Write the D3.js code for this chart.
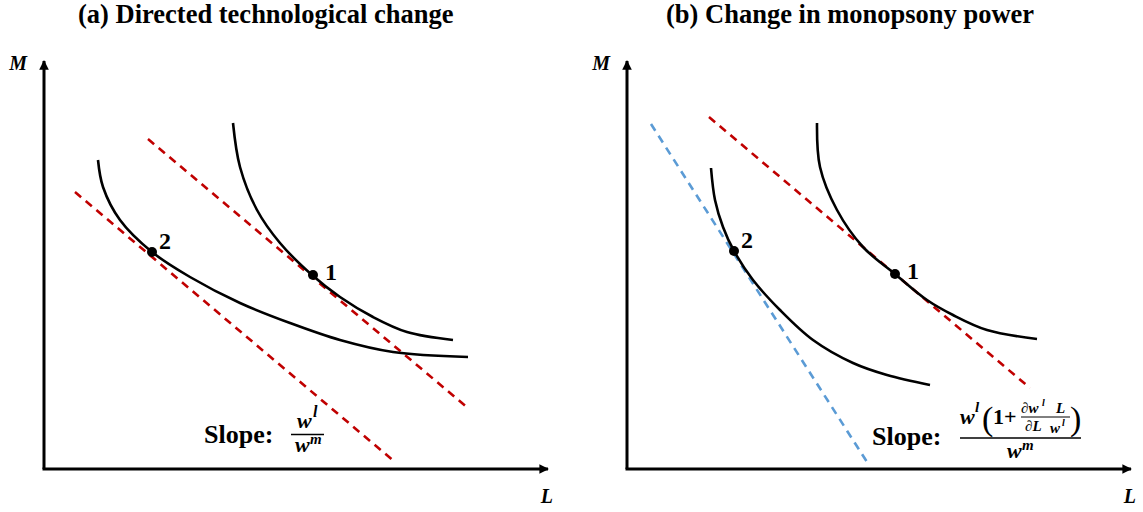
<!DOCTYPE html>
<html>
<head>
<meta charset="utf-8">
<title>Isoquants</title>
<script src="https://d3js.org/d3.v7.min.js"></script>
<style>
  body { margin: 0; background: #fff; }
  svg text { font-family: "Liberation Serif", "Times New Roman", serif; }
</style>
</head>
<body>
<svg id="chart" width="1143" height="512"></svg>
<script>
// ---- data (axis units: L across, M up) ----
const titles = ["(a) Directed technological change", "(b) Change in monopsony power"];

// panel (a) isoquants
const isoA1 = [[3.78,8.65],[3.92,7.55],[4.26,6.475],[4.72,5.65],[5.36,4.85],[5.92,4.3],[6.58,3.8],[7.26,3.425],[8.18,3.225]];
const isoA2 = [[1.08,7.725],[1.18,7.05],[1.52,6.225],[2.16,5.425],[2.92,4.8],[3.92,4.15],[4.92,3.65],[5.92,3.225],[6.98,2.925],[8.48,2.8]];
// panel (a) price lines (start, end)
const lineA1 = [[2.08,8.25],[8.48,1.525]];
const lineA2 = [[0.62,6.925],[7.02,0.175]];
const pointsA = [{id:"1", L:5.38, M:4.85}, {id:"2", L:2.16, M:5.425}];

// panel (b) isoquants
const isoB1 = [[3.8,8.65],[3.86,7.55],[4.2,6.475],[4.72,5.55],[5.36,4.875],[6.0,4.225],[6.52,3.85],[7.2,3.475],[8.2,3.25]];
const isoB2 = [[1.68,7.525],[1.76,6.725],[1.92,6.05],[2.14,5.45],[2.52,4.725],[3.06,3.975],[3.72,3.225],[4.52,2.65],[5.2,2.35],[6.06,2.1]];
const lineB1 = [[1.64,8.8],[8.06,2.025]];
const lineB2 = [[0.48,8.625],[4.8,0.175]];
const pointsB = [{id:"1", L:5.36, M:4.875}, {id:"2", L:2.14, M:5.45}];

const RED = "#c00000", BLUE = "#5b9bd5";

const svg = d3.select("#chart");

svg.append("defs").append("marker")
    .attr("id", "arrow")
    .attr("viewBox", "0 0 10 10")
    .attr("refX", 9).attr("refY", 5)
    .attr("markerWidth", 3.2).attr("markerHeight", 3.2)
    .attr("markerUnits", "strokeWidth")
    .attr("orient", "auto")
    .append("path").attr("d", "M0,0 L10,5 L0,10 z").attr("fill", "#000");

const panels = [
  {title: titles[0], titleX: 78, left: 44, isos: [isoA1, isoA2],
   lines: [{pts: lineA1, color: RED}, {pts: lineA2, color: RED}], points: pointsA},
  {title: titles[1], titleX: 666, left: 627, isos: [isoB1, isoB2],
   lines: [{pts: lineB1, color: RED}, {pts: lineB2, color: BLUE}], points: pointsB}
];

const xMax = 10.2, yMax = 10.35;

panels.forEach((p, i) => {
  const x = d3.scaleLinear().domain([0, xMax]).range([p.left, p.left + 510]);
  const y = d3.scaleLinear().domain([0, yMax]).range([469, 55]);
  const g = svg.append("g");

  g.append("text")
      .attr("x", p.titleX).attr("y", 23)
      .attr("font-size", 26.5).attr("font-weight", "bold")
      .text(p.title);

  // axes
  g.append("line")
      .attr("x1", x(0)).attr("y1", y(0)).attr("x2", x(0)).attr("y2", y(yMax) + 6)
      .attr("stroke", "#000").attr("stroke-width", 3)
      .attr("marker-end", "url(#arrow)");
  g.append("line")
      .attr("x1", x(0) - 1.5).attr("y1", y(0)).attr("x2", x(xMax) - 6).attr("y2", y(0))
      .attr("stroke", "#000").attr("stroke-width", 3)
      .attr("marker-end", "url(#arrow)");
  g.append("text")
      .attr("x", x(0) - 17).attr("y", 70)
      .attr("text-anchor", "end")
      .attr("font-size", 20).attr("font-weight", "bold").attr("font-style", "italic")
      .text("M");
  g.append("text")
      .attr("x", x(xMax) - 1).attr("y", 503)
      .attr("text-anchor", "end")
      .attr("font-size", 20).attr("font-weight", "bold").attr("font-style", "italic")
      .text("L");

  // price lines
  g.selectAll(".price").data(p.lines).join("line")
      .attr("class", "price")
      .attr("x1", d => x(d.pts[0][0])).attr("y1", d => y(d.pts[0][1]))
      .attr("x2", d => x(d.pts[1][0])).attr("y2", d => y(d.pts[1][1]))
      .attr("stroke", d => d.color).attr("stroke-width", 2.6)
      .attr("stroke-dasharray", "8,6");

  // isoquants
  const line = d3.line().x(d => x(d[0])).y(d => y(d[1])).curve(d3.curveCatmullRom.alpha(0.5));
  g.selectAll(".iso").data(p.isos).join("path")
      .attr("class", "iso")
      .attr("d", line)
      .attr("fill", "none").attr("stroke", "#000").attr("stroke-width", 2.6);

  // tangency points
  g.selectAll(".pt").data(p.points).join("circle")
      .attr("class", "pt")
      .attr("cx", d => x(d.L)).attr("cy", d => y(d.M)).attr("r", 5)
      .attr("fill", "#000");
  g.selectAll(".ptlab").data(p.points).join("text")
      .attr("class", "ptlab")
      .attr("x", d => x(d.L) + (d.id === "1" ? 12 : 7))
      .attr("y", d => y(d.M) + (d.id === "1" ? 5 : -3))
      .attr("font-size", 24).attr("font-weight", "bold")
      .text(d => d.id);
});

// slope labels
const mathFont = 22;
function mathText(sel, xx, yy, txt, size, opts) {
  const t = sel.append("text").attr("x", xx).attr("y", yy)
      .attr("font-size", size).attr("font-weight", "bold")
      .attr("font-style", opts && opts.upright ? "normal" : "italic")
      .text(txt);
  if (opts && opts.anchor) t.attr("text-anchor", opts.anchor);
  return t;
}

// (a)
const sa = svg.append("g");
sa.append("text").attr("x", 204).attr("y", 443)
    .attr("font-size", 26).attr("font-weight", "bold").text("Slope:");
mathText(sa, 297, 428, "w", mathFont);
mathText(sa, 313, 417, "l", 16);
sa.append("line").attr("x1", 291).attr("x2", 324).attr("y1", 434.5).attr("y2", 434.5)
    .attr("stroke", "#000").attr("stroke-width", 1.5);
mathText(sa, 295, 452, "w", mathFont);
mathText(sa, 310, 444, "m", 15);

// (b)
const sb = svg.append("g");
sb.append("text").attr("x", 872).attr("y", 445)
    .attr("font-size", 26).attr("font-weight", "bold").text("Slope:");
mathText(sb, 960, 424, "w", mathFont);
mathText(sb, 975, 412, "l", 15);
sb.append("text").attr("x", 982).attr("y", 430).attr("font-size", 34)
    .attr("font-weight", "normal").text("(");
mathText(sb, 993, 424, "1+", 22, {upright: true});
mathText(sb, 1021, 413, "\u2202w", 15);
mathText(sb, 1042, 406, "l", 10);
mathText(sb, 1056, 413, "L", 15);
sb.append("line").attr("x1", 1021).attr("x2", 1070).attr("y1", 417).attr("y2", 417)
    .attr("stroke", "#000").attr("stroke-width", 1);
mathText(sb, 1025, 431, "\u2202L", 15);
mathText(sb, 1050, 433, "w", 15);
mathText(sb, 1062, 426, "l", 10);
sb.append("text").attr("x", 1070).attr("y", 430).attr("font-size", 34)
    .attr("font-weight", "normal").text(")");
sb.append("line").attr("x1", 960).attr("x2", 1081).attr("y1", 438).attr("y2", 438)
    .attr("stroke", "#000").attr("stroke-width", 1.5);
mathText(sb, 1007, 458, "w", mathFont);
mathText(sb, 1022, 450, "m", 15);
</script>
</body>
</html>
